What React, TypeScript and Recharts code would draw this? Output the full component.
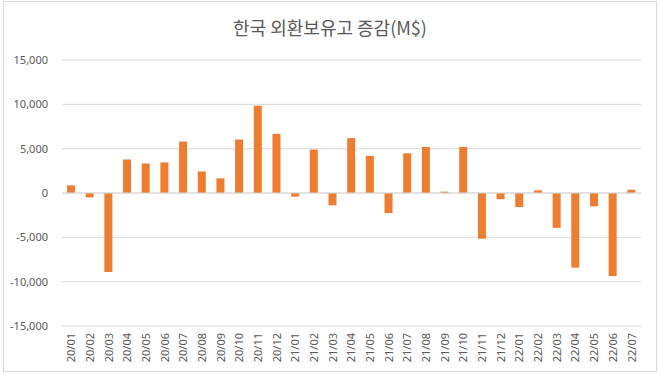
import { BarChart, Bar, XAxis, YAxis, CartesianGrid, ReferenceLine } from 'recharts';

const months = [
  '20/01', '20/02', '20/03', '20/04', '20/05', '20/06', '20/07', '20/08', '20/09', '20/10', '20/11', '20/12',
  '21/01', '21/02', '21/03', '21/04', '21/05', '21/06', '21/07', '21/08', '21/09', '21/10', '21/11', '21/12',
  '22/01', '22/02', '22/03', '22/04', '22/05', '22/06', '22/07',
];

const changes = [
  860, -490, -8910, 3780, 3330, 3450, 5800, 2430, 1650, 6030, 9850, 6670,
  -410, 4900, -1390, 6190, 4190, -2260, 4480, 5190, 150, 5190, -5150, -700,
  -1590, 300, -3930, -8420, -1500, -9360, 370,
];

const yTicks = [-15000, -10000, -5000, 0, 5000, 10000, 15000];

const data = months.map((m, i) => ({ month: m, value: changes[i] }));

const font = '"Noto Sans", "Noto Sans CJK KR", sans-serif';

function MonthTick({ x, y, payload }: any) {
  return (
    <g transform={`translate(${x},${y})`}>
      <text transform="rotate(-90)" x={-7} y={0} dy="0.35em" textAnchor="end" fill="#595959" fontSize={11} fontFamily={font}>
        {payload.value}
      </text>
    </g>
  );
}

export default function App() {
  return (
    <div style={{ position: 'absolute', left: 0, top: 0, width: 660, height: 374, background: '#fff' }}>
      <div style={{ position: 'absolute', left: 3, top: 1, width: 654, height: 371, border: '1px solid #D9D9D9', boxSizing: 'border-box' }} />
      <div style={{ position: 'absolute', left: 0, top: 14, width: 660, textAlign: 'center', fontFamily: '"Noto Sans CJK KR", sans-serif', fontSize: 18, color: '#595959' }}>
        한국 외환보유고 증감(M$)
      </div>
      <div style={{ position: 'absolute', left: 0, top: 0 }}>
        <BarChart width={660} height={374} data={data} margin={{ top: 60, right: 19, bottom: 0, left: 0 }} barSize={8}>
          <CartesianGrid vertical={false} stroke="#D9D9D9" />
          <XAxis dataKey="month" height={48} axisLine={false} tickLine={false} tickSize={0} tickMargin={0} interval={0} tick={MonthTick} />
          <YAxis
            width={62}
            domain={[-15000, 15000]}
            ticks={yTicks}
            axisLine={false}
            tickLine={false}
            tickSize={0}
            tickMargin={14}
            tick={{ fill: '#595959', fontSize: 11, fontFamily: font }}
            tickFormatter={(v: number) => v.toLocaleString('en-US')}
          />
          <ReferenceLine y={0} stroke="#D9D9D9" />
          <Bar dataKey="value" fill="#ED7D31" isAnimationActive={false} />
        </BarChart>
      </div>
    </div>
  );
}
